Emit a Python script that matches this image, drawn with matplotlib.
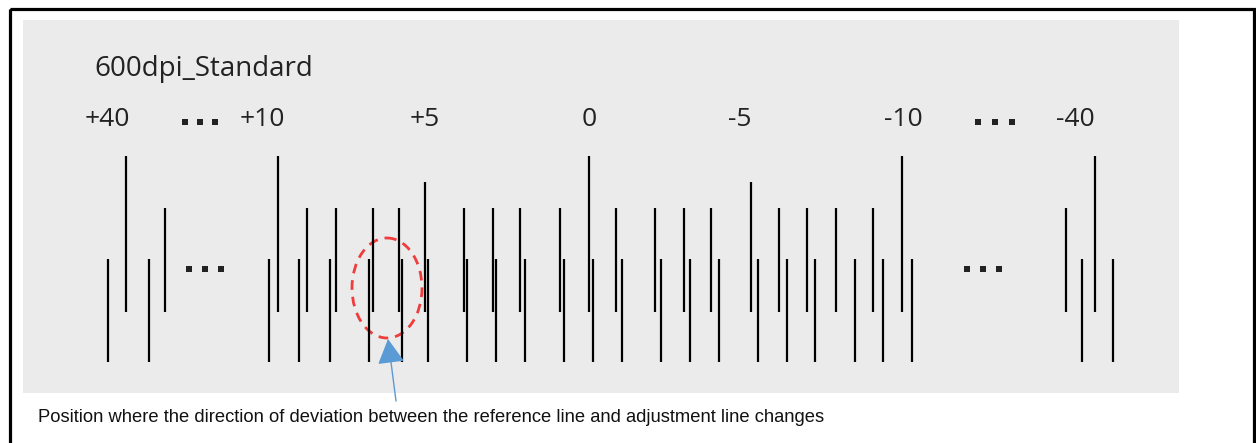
'''
Reference line / adjustment line pattern (600dpi_Standard).
Drawn in pixel coordinates of the original figure.
'''

import matplotlib
matplotlib.use("Agg")
import matplotlib.pyplot as plt
from matplotlib.patches import Rectangle, Ellipse

# reference lines (upper row): x position and length class
ref_x = [126, 165, 278, 307, 336, 373, 399, 425, 464, 493, 520, 560, 589,
         616, 655, 684, 711, 751, 779, 807, 836, 873, 902, 1066, 1095]
ref_kind = ["L", "S", "L", "S", "S", "S", "S", "M", "S", "S", "S", "S", "L",
            "S", "S", "S", "S", "M", "S", "S", "S", "S", "L", "S", "L"]
ref_top = {"L": 156, "M": 182, "S": 208}
ref_bottom = 311.5

# adjustment lines (lower row)
adj_x = [108, 149, 269, 299, 330, 369, 402, 428, 467, 496, 525, 564, 593,
         622, 661, 690, 719, 758, 787, 815, 855, 883, 912, 1082, 1113]
adj_top = 259
adj_bottom = 361.5

# scale labels above the lines
scale_labels = ["+40", "+10", "+5", "0", "-5", "-10", "-40"]
scale_x = [107, 262, 425, 589, 740, 903, 1075]
scale_y = 119

# "..." gaps
gap_dots_x = [[185, 200, 215], [978, 995, 1012], [189, 205, 221], [967, 983, 999]]
gap_dots_y = [122, 122, 269, 269]

title = "600dpi_Standard"
note = ("Position where the direction of deviation between the reference "
        "line and adjustment line changes")

W, H = 1256, 443
fig = plt.figure(figsize=(W / 100, H / 100), dpi=100)
ax = fig.add_axes([0, 0, 1, 1])
ax.set_xlim(0, W)
ax.set_ylim(H, 0)
ax.axis("off")

# frame and grey panel
ax.add_patch(Rectangle((9.5, 8.5), 1244, 470, fill=False, ec="black", lw=2.3))
ax.add_patch(Rectangle((23, 20), 1156, 373, fc="#EBEBEB", ec="none"))

# lines
for x, k in zip(ref_x, ref_kind):
    ax.plot([x, x], [ref_top[k], ref_bottom], color="black", lw=1.6,
            solid_capstyle="butt")
for x in adj_x:
    ax.plot([x, x], [adj_top, adj_bottom], color="black", lw=1.6,
            solid_capstyle="butt")

# dots
for xs, y in zip(gap_dots_x, gap_dots_y):
    ax.scatter(xs, [y] * len(xs), marker="s", s=13, color="#222222", lw=0)

# texts
ax.text(94, 69, title, fontsize=20, family="Open Sans", color="#222222",
        ha="left", va="center")
for lab, x in zip(scale_labels, scale_x):
    ax.text(x, scale_y, lab, fontsize=19, family="Open Sans", color="#222222",
            ha="center", va="center")
ax.text(38, 418, note, fontsize=13.2, family="Liberation Sans", color="#111111",
        ha="left", va="center")

# highlight ellipse and arrow
ax.add_patch(Ellipse((387, 288), 70, 100, fill=False, ec="#F03C3C", lw=2,
                     linestyle=(0, (3.5, 2.5))))
ax.annotate("", xy=(388, 339), xytext=(396, 401),
            arrowprops=dict(arrowstyle="-|>,head_length=0.55,head_width=0.3",
                            color="#5B9BD5", lw=1,
                            mutation_scale=28, shrinkA=0, shrinkB=0))

fig.savefig("out.png", dpi=100)
